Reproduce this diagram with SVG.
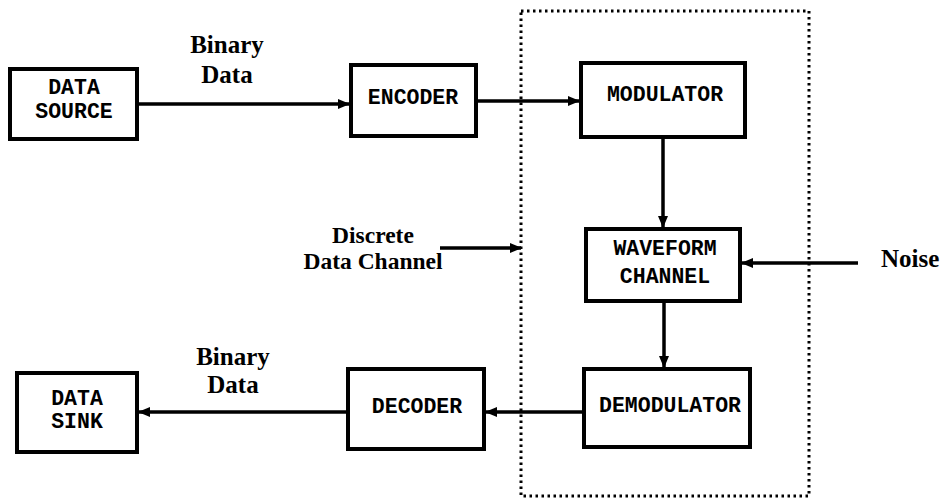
<svg xmlns="http://www.w3.org/2000/svg" width="946" height="500" viewBox="0 0 946 500">
<defs>
<style>
.box{fill:#fff;stroke:#000;stroke-width:4}
.bl{font-family:"Liberation Mono","Courier New",monospace;font-weight:bold;font-size:21.5px;text-anchor:middle;fill:#000}
.lab{font-family:"Liberation Serif","Times New Roman",serif;font-weight:bold;font-size:25px;fill:#000}
.sm{font-size:23.5px}
.c{text-anchor:middle}
.ln{stroke:#000;stroke-width:3.5;fill:none}
.dot{stroke:#000;stroke-width:3;fill:none;stroke-dasharray:2.5 3.5}
</style>
<marker id="ah" viewBox="0 0 12 10" refX="11" refY="5" markerWidth="12" markerHeight="10" markerUnits="userSpaceOnUse" orient="auto">
<path d="M0,0 L12,5 L0,10 Z" fill="#000"/>
</marker>
</defs>
<rect width="946" height="500" fill="#fff"/>

<g id="channel-boundary">
<rect x="521" y="11" width="288" height="485" class="dot"/>
</g>

<g id="data-source">
<rect x="10" y="69" width="127" height="70" class="box"/>
<text x="74" y="94" class="bl">DATA</text>
<text x="74" y="118" class="bl">SOURCE</text>
</g>
<g id="encoder">
<rect x="351" y="65" width="125" height="71" class="box"/>
<text x="413" y="104" class="bl">ENCODER</text>
</g>
<g id="modulator">
<rect x="581" y="63" width="164" height="74" class="box"/>
<text x="665" y="101" class="bl">MODULATOR</text>
</g>
<g id="waveform-channel">
<rect x="586" y="229" width="154" height="72" class="box"/>
<text x="665" y="255" class="bl">WAVEFORM</text>
<text x="665" y="283" class="bl">CHANNEL</text>
</g>
<g id="demodulator">
<rect x="584" y="369" width="166" height="78" class="box"/>
<text x="670" y="412" class="bl">DEMODULATOR</text>
</g>
<g id="decoder">
<rect x="348" y="369" width="136" height="80" class="box"/>
<text x="417" y="413" class="bl">DECODER</text>
</g>
<g id="data-sink">
<rect x="17" y="373" width="120" height="79" class="box"/>
<text x="77" y="405" class="bl">DATA</text>
<text x="77" y="428" class="bl">SINK</text>
</g>

<g id="labels">
<text x="227" y="53" class="lab c">Binary</text>
<text x="227" y="83" class="lab c">Data</text>
<text x="373" y="243" class="lab sm c">Discrete</text>
<text x="373" y="269" class="lab sm c">Data Channel</text>
<text x="881" y="267" class="lab">Noise</text>
<text x="233" y="365" class="lab c">Binary</text>
<text x="233" y="393" class="lab c">Data</text>
</g>

<g id="connectors">
<line x1="139" y1="104" x2="349" y2="104" class="ln" marker-end="url(#ah)"/>
<line x1="478" y1="101" x2="579" y2="101" class="ln" marker-end="url(#ah)"/>
<line x1="663" y1="139" x2="663" y2="227" class="ln" marker-end="url(#ah)"/>
<line x1="858" y1="263" x2="742" y2="263" class="ln" marker-end="url(#ah)"/>
<line x1="664" y1="303" x2="664" y2="367" class="ln" marker-end="url(#ah)"/>
<line x1="582" y1="412" x2="486" y2="412" class="ln" marker-end="url(#ah)"/>
<line x1="346" y1="412" x2="139" y2="412" class="ln" marker-end="url(#ah)"/>
<line x1="440" y1="248" x2="521" y2="248" class="ln" marker-end="url(#ah)"/>
</g>
</svg>
